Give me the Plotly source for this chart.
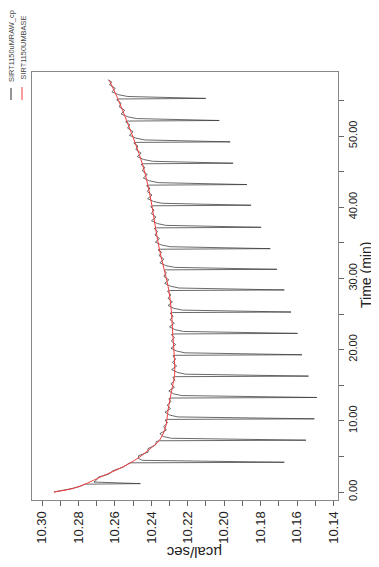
import plotly.graph_objects as go

# ---- data ----
base_time = [0, 0.5, 1.2, 2.1, 3.0, 3.8, 4.9, 5.9, 7.3, 9.1, 11.5, 14.3, 16.5, 19.5, 22.5,
             25.5, 28.5, 31.0, 34.0, 37.0, 40.0, 43.0, 46.0, 49.0, 52.0, 55.0, 57.8]
base_value = [10.2935, 10.2830, 10.2755, 10.2680, 10.2600, 10.2535, 10.2465, 10.2415, 10.2355,
              10.2322, 10.2308, 10.2288, 10.2272, 10.2275, 10.2283, 10.2290, 10.2305, 10.2327,
              10.2355, 10.2376, 10.2395, 10.2418, 10.2448, 10.2488, 10.2533, 10.2580, 10.2630]

raw_time = [
    0.00, 0.25, 0.50, 0.80, 1.00, 1.10, 1.18, 1.40, 1.70, 2.10, 2.50, 3.00, 3.50, 3.95,
    4.05, 4.10, 4.18, 4.45, 4.70, 5.10, 5.60, 6.10, 6.60, 7.10,
    7.20, 7.28, 7.55, 7.80, 8.20, 8.70, 9.20, 9.70, 10.10,
    10.20, 10.28, 10.55, 10.80, 11.20, 11.70, 12.20, 12.70, 13.10,
    13.20, 13.28, 13.55, 13.80, 14.20, 14.70, 15.20, 15.70, 16.10,
    16.20, 16.28, 16.55, 16.80, 17.20, 17.70, 18.20, 18.70, 19.10,
    19.20, 19.28, 19.55, 19.80, 20.20, 20.70, 21.20, 21.70, 22.10,
    22.20, 22.28, 22.55, 22.80, 23.20, 23.70, 24.20, 24.70, 25.10,
    25.20, 25.28, 25.55, 25.80, 26.20, 26.70, 27.20, 27.70, 28.20,
    28.30, 28.38, 28.65, 28.90, 29.30, 29.80, 30.30, 30.80, 31.10,
    31.20, 31.28, 31.55, 31.80, 32.20, 32.70, 33.20, 33.70, 34.00,
    34.10, 34.18, 34.45, 34.70, 35.10, 35.60, 36.10, 36.60, 37.00,
    37.10, 37.18, 37.45, 37.70, 38.10, 38.60, 39.10, 39.60, 40.10,
    40.20, 40.28, 40.55, 40.80, 41.20, 41.70, 42.20, 42.70, 43.00,
    43.10, 43.18, 43.45, 43.70, 44.10, 44.60, 45.10, 45.60, 46.00,
    46.10, 46.18, 46.45, 46.70, 47.10, 47.60, 48.10, 48.60, 49.00,
    49.10, 49.18, 49.45, 49.70, 50.10, 50.60, 51.10, 51.60, 52.00,
    52.10, 52.18, 52.45, 52.70, 53.10, 53.60, 54.10, 54.60, 55.10,
    55.20, 55.28, 55.55, 55.80, 56.20, 56.70, 57.20, 57.60, 57.90,
]
raw_value = [
    10.2935, 10.2880, 10.2835, 10.2790, 10.2770, 10.2765, 10.2460, 10.2715, 10.2700, 10.2690, 10.2635, 10.2610, 10.2555, 10.2530,
    10.2522, 10.2512, 10.1670, 10.2450, 10.2470, 10.2470, 10.2418, 10.2418, 10.2377, 10.2372,
    10.2355, 10.1551, 10.2290, 10.2335, 10.2353, 10.2318, 10.2332, 10.2311, 10.2324,
    10.2311, 10.1505, 10.2255, 10.2298, 10.2325, 10.2295, 10.2313, 10.2292, 10.2304,
    10.2291, 10.1491, 10.2235, 10.2278, 10.2304, 10.2273, 10.2292, 10.2270, 10.2282,
    10.2269, 10.1537, 10.2212, 10.2257, 10.2288, 10.2261, 10.2284, 10.2266, 10.2282,
    10.2270, 10.1573, 10.2215, 10.2261, 10.2292, 10.2266, 10.2290, 10.2273, 10.2290,
    10.2277, 10.1597, 10.2223, 10.2269, 10.2300, 10.2274, 10.2297, 10.2280, 10.2297,
    10.2284, 10.1633, 10.2230, 10.2276, 10.2308, 10.2284, 10.2308, 10.2293, 10.2311,
    10.2299, 10.1670, 10.2248, 10.2293, 10.2327, 10.2304, 10.2331, 10.2317, 10.2330,
    10.2324, 10.1710, 10.2272, 10.2320, 10.2353, 10.2331, 10.2357, 10.2344, 10.2363,
    10.2351, 10.1747, 10.2298, 10.2345, 10.2378, 10.2355, 10.2380, 10.2366, 10.2384,
    10.2372, 10.1797, 10.2320, 10.2366, 10.2399, 10.2374, 10.2400, 10.2385, 10.2404,
    10.2392, 10.1852, 10.2340, 10.2387, 10.2420, 10.2396, 10.2422, 10.2408, 10.2426,
    10.2414, 10.1875, 10.2362, 10.2410, 10.2444, 10.2422, 10.2449, 10.2436, 10.2456,
    10.2444, 10.1951, 10.2393, 10.2442, 10.2477, 10.2456, 10.2485, 10.2474, 10.2496,
    10.2485, 10.1967, 10.2436, 10.2484, 10.2520, 10.2500, 10.2530, 10.2519, 10.2541,
    10.2530, 10.2027, 10.2481, 10.2530, 10.2566, 10.2546, 10.2576, 10.2566, 10.2590,
    10.2579, 10.2101, 10.2530, 10.2579, 10.2616, 10.2598, 10.2629, 10.2618, 10.2638,
]

x_tick_values = [10.30, 10.29, 10.28, 10.27, 10.26, 10.25, 10.24, 10.23, 10.22,
                 10.21, 10.20, 10.19, 10.18, 10.17, 10.16, 10.15, 10.14]
x_tick_labels = ["10.30", "", "10.28", "", "10.26", "", "10.24", "", "10.22",
                 "", "10.20", "", "10.18", "", "10.16", "", "10.14"]
y_tick_values = [0, 5, 10, 15, 20, 25, 30, 35, 40, 45, 50, 55]
y_tick_labels = ["0.00", "", "10.00", "", "20.00", "", "30.00", "", "40.00", "", "50.00", ""]

series_names = ["SIRT1150uMRAW_cp", "SIRT1150UMBASE"]
x_title = "µcal/sec"
y_title = "Time (min)"

FONT = "Liberation Sans, Arial, sans-serif"

fig = go.Figure()
fig.add_trace(go.Scatter(x=raw_value, y=raw_time, mode="lines", name=series_names[0],
                         line=dict(color="#383838", width=0.75)))
fig.add_trace(go.Scatter(x=base_value, y=base_time, mode="lines", name=series_names[1],
                         line=dict(color="#f03c3c", width=1, shape="spline")))

# page has an 8px body margin; figure is sized so it fits the 379x567 window
OFF = 8
W, H = 379 - OFF, 567 - OFF
L, R, T, B = 32 - OFF, 41, 72 - OFF, 67
pw, ph = W - L - R, H - T - B


def px(x):
    return (x - OFF - L) / pw


def py(y):
    return (H - B - (y - OFF)) / ph


fig.update_layout(
    width=W, height=H,
    margin=dict(l=L, r=R, t=T, b=B, pad=0),
    paper_bgcolor="white", plot_bgcolor="white",
    showlegend=False,
    font=dict(family=FONT, color="#222"),
    xaxis=dict(range=[10.3055, 10.1375], tickvals=x_tick_values, ticktext=x_tick_labels,
               tickangle=-90, ticks="outside", ticklen=5, tickcolor="#666",
               showline=True, linecolor="#888", linewidth=1.2, mirror=True,
               showgrid=False, zeroline=False, tickfont=dict(size=13, color="#222")),
    yaxis=dict(range=[-1.12, 58.99], tickvals=y_tick_values, ticktext=y_tick_labels,
               side="right", tickangle=-90, ticks="outside", ticklen=5, tickcolor="#666",
               showline=True, linecolor="#888", linewidth=1.2, mirror=True,
               showgrid=False, zeroline=False, tickfont=dict(size=11, color="#222")),
)

annotations = [
    dict(text=x_title, x=px(194), y=py(553), xref="paper", yref="paper", showarrow=False,
         textangle=180, font=dict(size=15, color="#222"), xanchor="center", yanchor="middle"),
    dict(text=y_title, x=px(366), y=py(275), xref="paper", yref="paper", showarrow=False,
         textangle=-90, font=dict(size=14, color="#222"), xanchor="center", yanchor="middle"),
    dict(text=series_names[0], x=px(12), y=py(46), xref="paper", yref="paper", showarrow=False,
         textangle=-90, font=dict(size=7.4, color="#444"), xanchor="center", yanchor="middle"),
    dict(text=series_names[1], x=px(22.5), y=py(48), xref="paper", yref="paper", showarrow=False,
         textangle=-90, font=dict(size=7.4, color="#444"), xanchor="center", yanchor="middle"),
]
fig.update_layout(annotations=annotations)
fig.add_shape(type="line", xref="paper", yref="paper", x0=px(11), x1=px(11), y0=py(88), y1=py(100),
              line=dict(color="#2b2b2b", width=1))
fig.add_shape(type="line", xref="paper", yref="paper", x0=px(22), x1=px(22), y0=py(87), y1=py(100),
              line=dict(color="#f03c3c", width=1))

fig.write_html("out.html")
